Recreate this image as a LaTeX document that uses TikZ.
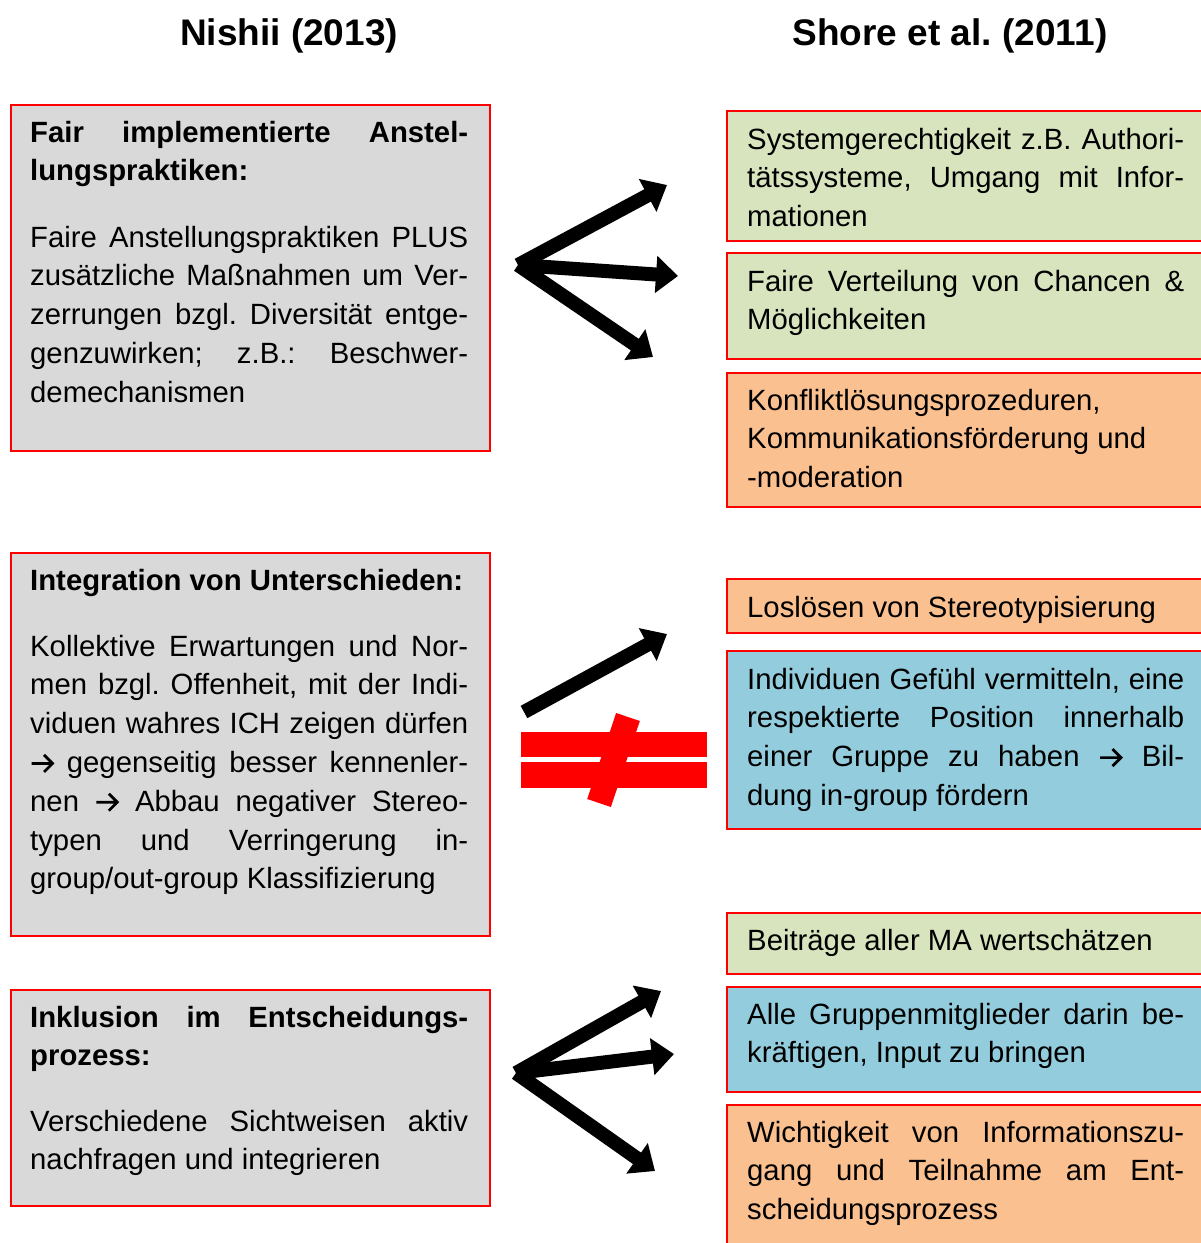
\documentclass[tikz,border=0pt]{standalone}
\usepackage{fontspec}
\setmainfont{Liberation Sans}
\usetikzlibrary{arrows.meta}
\definecolor{boxgray}{HTML}{D9D9D9}
\definecolor{boxgreen}{HTML}{D7E4BD}
\definecolor{boxorange}{HTML}{FAC090}
\definecolor{boxblue}{HTML}{93CDDD}
\frenchspacing
\newcommand\jl[1]{\makebox[\linewidth][s]{#1}}
\newcommand\rar{\tikz[x=1pt,y=1pt,baseline=0pt]{\draw[black, line width=2.7pt, line join=miter, line cap=butt] (1.5,9) -- (23,9) (14,0.5) -- (22.5,9) -- (14,17.5);}}
\begin{document}
\begin{tikzpicture}[x=1pt,y=-1pt,
  box/.style={draw=red, line width=1.5pt, rectangle, inner sep=0pt, anchor=north west},
  txt/.style={anchor=base west, inner sep=0pt, font=\fontsize{29.3}{38.8}\selectfont},
  ttl/.style={anchor=base, inner sep=0pt, font=\fontsize{37}{44}\selectfont\bfseries},
  blk/.style={line width=14pt, line cap=butt, -{Triangle[length=22pt,width=36pt]}},
]
\useasboundingbox (0,0) rectangle (1201,1243);

% titles
\node[ttl] (h1) at (289,45) {Nishii (2013)};
\node[ttl] (h2) at (950,45) {Shore et al. (2011)};

% left boxes
\node[box, fill=boxgray, minimum width=479pt, minimum height=346pt] (L1) at (10,104) {};
\node[box, fill=boxgray, minimum width=479pt, minimum height=383pt] (L2) at (10,552) {};
\node[box, fill=boxgray, minimum width=479pt, minimum height=216pt] (L3) at (10,989) {};

\node[txt] (L1a) at (30,142) {\parbox[t]{438pt}{\bfseries\jl{Fair implementierte Anstel-}\\lungspraktiken:}};
\node[txt] (L1b) at (30,247) {\parbox[t]{438pt}{\jl{Faire Anstellungspraktiken PLUS}\\\jl{zusätzliche Maßnahmen um Ver-}\\\jl{zerrungen bzgl. Diversität entge-}\\\jl{genzuwirken; z.B.: Beschwer-}\\demechanismen}};

\node[txt] (L2a) at (30,590) {\parbox[t]{438pt}{\bfseries Integration von Unterschieden:}};
\node[txt] (L2b) at (30,656) {\parbox[t]{438pt}{\jl{Kollektive Erwartungen und Nor-}\\\jl{men bzgl. Offenheit, mit der Indi-}\\\jl{viduen wahres ICH zeigen dürfen}\\\jl{\rar{} gegenseitig besser kennenler-}\\\jl{nen \rar{} Abbau negativer Stereo-}\\\jl{typen und Verringerung in-}\\group/out-group Klassifizierung}};

\node[txt] (L3a) at (30,1027) {\parbox[t]{438pt}{\bfseries\jl{Inklusion im Entscheidungs-}\\prozess:}};
\node[txt] (L3b) at (30,1131) {\parbox[t]{438pt}{\jl{Verschiedene Sichtweisen aktiv}\\nachfragen und integrieren}};

% right boxes
\node[box, fill=boxgreen, minimum width=480pt, minimum height=130pt] (RA) at (726,110) {};
\node[box, fill=boxgreen, minimum width=480pt, minimum height=106pt] (RB) at (726,252) {};
\node[box, fill=boxorange, minimum width=480pt, minimum height=134pt] (RC) at (726,372) {};
\node[box, fill=boxorange, minimum width=480pt, minimum height=54pt] (RD) at (726,578) {};
\node[box, fill=boxblue, minimum width=480pt, minimum height=178pt] (RE) at (726,650) {};
\node[box, fill=boxgreen, minimum width=480pt, minimum height=61pt] (RF) at (726,912) {};
\node[box, fill=boxblue, minimum width=480pt, minimum height=105pt] (RG) at (726,986) {};
\node[box, fill=boxorange, minimum width=480pt, minimum height=150pt] (RH) at (726,1104) {};

\node[txt] (RAt) at (747,149) {\parbox[t]{437pt}{\jl{Systemgerechtigkeit z.B. Authori-}\\\jl{tätssysteme, Umgang mit Infor-}\\mationen}};
\node[txt] (RBt) at (747,291) {\parbox[t]{437pt}{\jl{Faire Verteilung von Chancen \&}\\Möglichkeiten}};
\node[txt] (RCt) at (747,410) {\parbox[t]{437pt}{Konfliktlösungsprozeduren,\\Kommunikationsförderung und\\-moderation}};
\node[txt] (RDt) at (747,617) {\parbox[t]{437pt}{Loslösen von Stereotypisierung}};
\node[txt] (REt) at (747,689) {\parbox[t]{437pt}{\jl{Individuen Gefühl vermitteln, eine}\\\jl{respektierte Position innerhalb}\\\jl{einer Gruppe zu haben \rar{} Bil-}\\dung in-group fördern}};
\node[txt] (RFt) at (747,950) {\parbox[t]{437pt}{Beiträge aller MA wertschätzen}};
\node[txt] (RGt) at (747,1024) {\parbox[t]{437pt}{\jl{Alle Gruppenmitglieder darin be-}\\kräftigen, Input zu bringen}};
\node[txt] (RHt) at (747,1142) {\parbox[t]{437pt}{\jl{Wichtigkeit von Informationszu-}\\\jl{gang und Teilnahme am Ent-}\\scheidungsprozess}};

% arrows group 1
\coordinate (o1) at (518,265);
\coordinate (a11) at (667,185);
\coordinate (a12) at (678,276);
\coordinate (a13) at (653,357);
\draw[blk] (o1) -- (a11);
\draw[blk] (o1) -- (a12);
\draw[blk] (o1) -- (a13);

% group 2
\coordinate (o2) at (524,712);
\coordinate (a21) at (667,634);
\draw[blk] (o2) -- (a21);
\coordinate (ne1) at (628,717);
\coordinate (ne2) at (599,803);
\fill[red] (521,732) rectangle (707,757);
\fill[red] (521,762) rectangle (707,788);
\draw[red, line width=25pt] (ne1) -- (ne2);

% group 3
\coordinate (o3) at (516,1073);
\coordinate (a31) at (661,991);
\coordinate (a32) at (674,1054);
\coordinate (a33) at (655,1171);
\draw[blk] (o3) -- (a31);
\draw[blk] (o3) -- (a32);
\draw[blk] (o3) -- (a33);
\end{tikzpicture}
\end{document}
